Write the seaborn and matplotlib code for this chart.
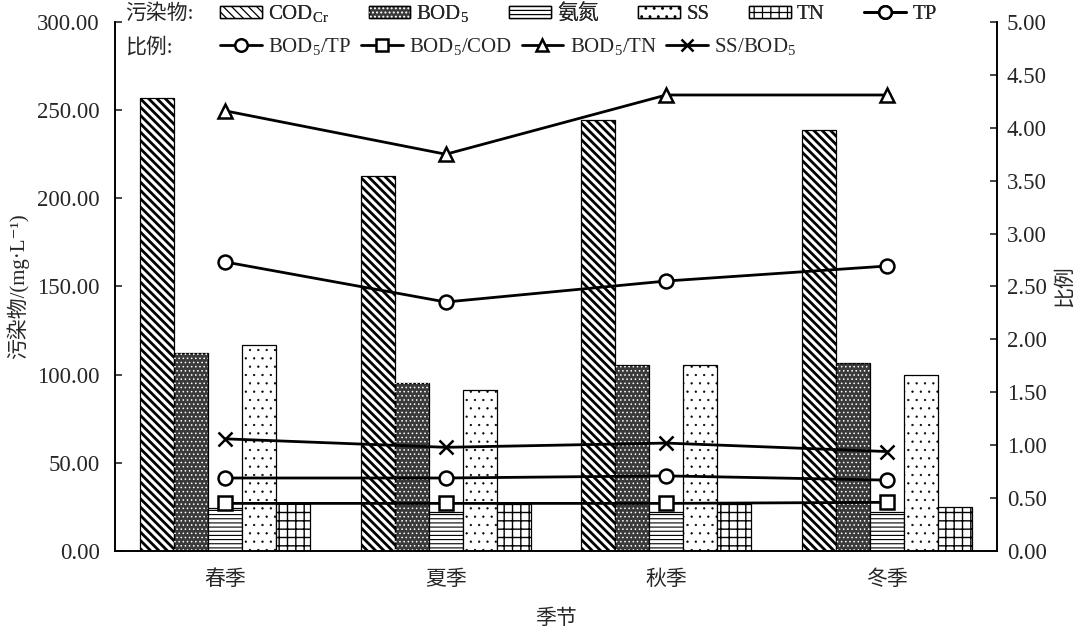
import numpy as np
import pandas as pd
import matplotlib
matplotlib.use('Agg')
import matplotlib.pyplot as plt
import seaborn as sns
from matplotlib.patches import Patch, Rectangle
from matplotlib.lines import Line2D
from matplotlib.legend_handler import HandlerTuple
from matplotlib.ticker import FormatStrFormatter, MultipleLocator

# 季节与各污染物浓度 (mg/L)
seasons = ['春季', '夏季', '秋季', '冬季']
pollutants = ['COD$_{\\mathrm{Cr}}$', 'BOD$_{\\mathrm{5}}$', '氨氮', 'SS', 'TN']
cod = [257.0, 212.7, 244.5, 238.8]
bod5 = [112.3, 95.3, 105.5, 106.6]
nh3n = [24.4, 22.1, 22.1, 22.1]
ss = [116.8, 91.3, 105.5, 99.8]
tn = [27.2, 26.7, 26.7, 25.0]
tp = [0.69, 0.69, 0.71, 0.67]

# 比例
bod5_tp = [163.9, 141.2, 153.1, 161.6]
bod5_cod = [0.45, 0.45, 0.45, 0.46]
bod5_tn = [4.16, 3.75, 4.31, 4.31]
ss_bod5 = [1.06, 0.98, 1.02, 0.94]

sns.set_style('ticks')
plt.rcParams['font.family'] = ['Liberation Serif', 'Noto Sans CJK SC', 'DejaVu Sans']
plt.rcParams['mathtext.fontset'] = 'custom'
plt.rcParams['mathtext.rm'] = 'Liberation Serif'
plt.rcParams['hatch.linewidth'] = 0.9
fs = 15
tfs = 16.5

# hatch style per pollutant: (hatch, hatch linewidth)
hatch_style = [('\\\\\\\\', 2.0), (None, 0.9), ('----', 0.8), ('..', 0.4), ('++', 1.0)]


def set_hlw(p, lw):
    if hasattr(p, 'set_hatch_linewidth'):
        p.set_hatch_linewidth(lw)


df = pd.DataFrame({
    '季节': seasons * len(pollutants),
    '污染物': np.repeat(pollutants, len(seasons)),
    '浓度': cod + bod5 + nh3n + ss + tn,
})

fig = plt.figure(figsize=(10.8, 6.3), dpi=100)
ax = fig.add_axes([0.1065, 0.1254, 0.8167, 0.8397])

sns.barplot(data=df, x='季节', y='浓度', hue='污染物', hue_order=pollutants,
            palette=['white'] * len(pollutants), saturation=1, width=0.77,
            edgecolor='black', linewidth=0.9, legend=False, ax=ax)

for cont, (h, hlw) in zip(ax.containers, hatch_style):
    for bar in cont:
        if h:
            bar.set_hatch(h)
            set_hlw(bar, hlw)
# BOD5: dark fill with white dots
for bar in ax.containers[1]:
    bar.set_facecolor('#3a3a3a')
    dots = Rectangle(bar.get_xy(), bar.get_width(), bar.get_height(), fill=False,
                     hatch='....', edgecolor='white', lw=0, zorder=bar.get_zorder())
    set_hlw(dots, 0.6)
    ax.add_patch(dots)

line_kw = dict(color='black', linewidth=2.0, markersize=10, markeredgewidth=1.8,
               markerfacecolor='white', errorbar=None)
sns.pointplot(x=seasons, y=bod5_tp, markers='o', ax=ax, **line_kw)

ax2 = ax.twinx()
sns.pointplot(x=seasons, y=tp, markers='o', ax=ax2, **line_kw)
sns.pointplot(x=seasons, y=bod5_cod, markers='s', ax=ax2, **line_kw)
sns.pointplot(x=seasons, y=bod5_tn, markers='^', ax=ax2, **line_kw)
sns.pointplot(x=seasons, y=ss_bod5, markers='x', ax=ax2, **line_kw)

ax.set_ylim(0, 300)
ax2.set_ylim(0, 5)
ax.set_xlim(-0.5, 3.5)
ax.yaxis.set_major_locator(MultipleLocator(50))
ax2.yaxis.set_major_locator(MultipleLocator(0.5))
ax.yaxis.set_major_formatter(FormatStrFormatter('%.2f'))
ax2.yaxis.set_major_formatter(FormatStrFormatter('%.2f'))

for a in (ax, ax2):
    a.spines['top'].set_visible(False)
    for s in a.spines.values():
        s.set_linewidth(1.2)
        s.set_color('black')
    a.grid(False)
ax.tick_params(axis='y', direction='in', length=5, width=1.2, labelsize=tfs, pad=11)
ax2.tick_params(axis='y', direction='in', length=5, width=1.2, labelsize=tfs, pad=7)
ax.tick_params(axis='x', length=0, labelsize=fs, pad=14)

ax.set_xlabel('季节', fontsize=fs, labelpad=14)
ax.set_ylabel('污染物/(mg·L⁻¹)', fontsize=fs, labelpad=6)
ax2.set_ylabel('比例', fontsize=fs, labelpad=6)

# 图例
dot_leg = Patch(facecolor='none', edgecolor='white', hatch='....', lw=0)
set_hlw(dot_leg, 0.6)
dot_patch = (Patch(facecolor='#3a3a3a', edgecolor='black'), dot_leg)


def mk(m):
    return Line2D([], [], color='black', lw=2.0, marker=m, markersize=9,
                  markeredgewidth=1.8, markerfacecolor='white')


h1 = []
for i, (h, hlw) in enumerate(hatch_style):
    if i == 1:
        h1.append(dot_patch)
        continue
    p = Patch(facecolor='white', edgecolor='black', hatch=h)
    set_hlw(p, hlw)
    h1.append(p)
h1.append(mk('o'))
l1 = pollutants + ['TP']
leg1 = fig.legend(h1, l1, ncol=6, loc='center left', bbox_to_anchor=(0.204, 0.978),
                  frameon=False, fontsize=fs, handlelength=2.0, handleheight=0.5,
                  handletextpad=0.3, columnspacing=1.9, borderpad=0, borderaxespad=0,
                  handler_map={tuple: HandlerTuple(ndivide=1)})
fig.legend([mk('o'), mk('s'), mk('^'), mk('x')],
           ['BOD$_{\\mathrm{5}}$/TP', 'BOD$_{\\mathrm{5}}$/COD', 'BOD$_{\\mathrm{5}}$/TN',
            'SS/BOD$_{\\mathrm{5}}$'],
           ncol=4, loc='center left', bbox_to_anchor=(0.204, 0.925), frameon=False,
           fontsize=fs, handlelength=2.0, handletextpad=0.3, columnspacing=0.45,
           borderpad=0, borderaxespad=0)
fig.add_artist(leg1)
fig.text(0.116, 0.978, '污染物:', fontsize=fs, va='center')
fig.text(0.116, 0.925, '比例:', fontsize=fs, va='center')

fig.savefig('out.png', dpi=100)
